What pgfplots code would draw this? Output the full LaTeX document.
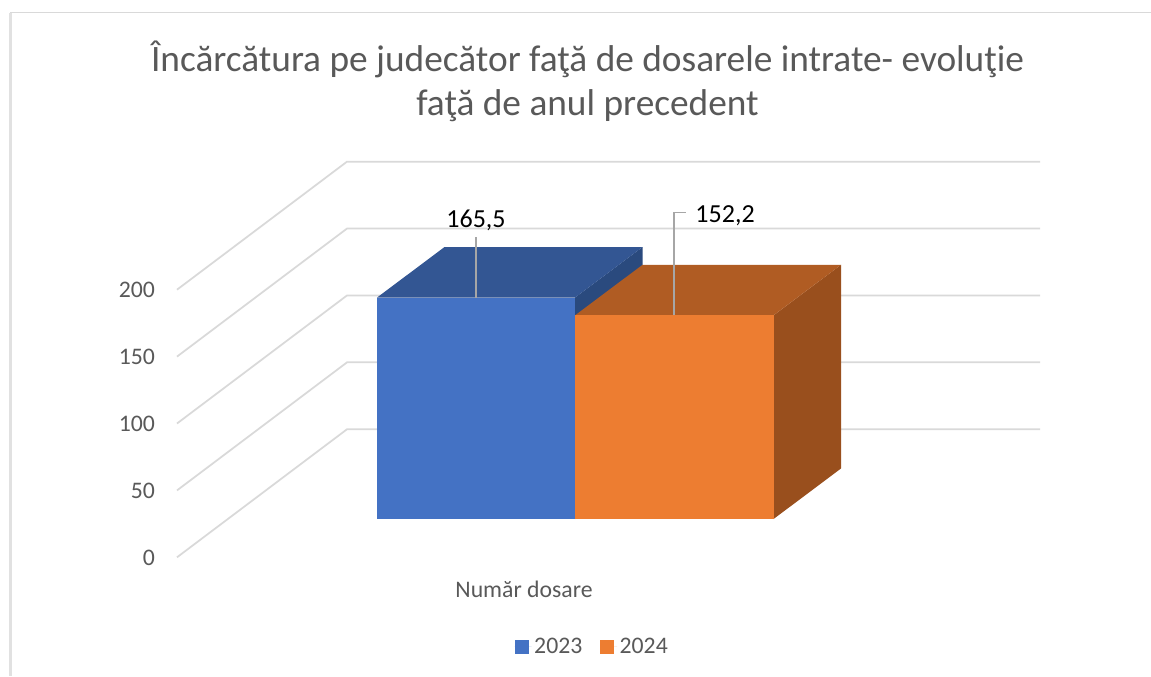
\documentclass[border=0pt]{standalone}
\usepackage{pgfplots}
\pgfplotsset{compat=1.18}
\usepackage{fontspec}
\setmainfont{Carlito}
\definecolor{txt}{HTML}{595959}
\definecolor{gridc}{HTML}{D9D9D9}
\definecolor{blueF}{HTML}{4472C4}
\definecolor{blueT}{HTML}{335693}
\definecolor{blueS}{HTML}{2A4A7E}
\definecolor{orF}{HTML}{ED7D31}
\definecolor{orT}{HTML}{B05C23}
\definecolor{orS}{HTML}{994F1D}
\definecolor{lead}{HTML}{A6A6A6}
\pgfplotsset{
  poly/.style={fill=#1,draw=none,forget plot},
  wall/.style={draw=gridc,line width=1.3pt,forget plot},
}
\begin{document}
\begin{tikzpicture}
\path[use as bounding box,fill=white] (-132.75pt,-89.025pt) rectangle (730.5pt,417.975pt);
\begin{axis}[
  scale only axis,
  width=647.25pt,
  height=200.7pt,
  xmin=177, xmax=1040,
  ymin=0, ymax=200,
  clip=false,
  axis line style={draw=none},
  major tick length=0pt,
  ytick={0,50,100,150,200},
  xtick={524},
  xticklabels={Număr dosare},
  /pgf/number format/assume math mode=true,
  tick label style={text=txt,font=\fontsize{17.8}{20}\selectfont},
  yticklabel style={xshift=-13pt,yshift=-0.5pt},
  xticklabel style={anchor=base,yshift=-30.5pt},
  title={Încărcătura pe judecător faţă de dosarele intrate- evoluţie\\faţă de anul precedent},
  title style={at={(axis cs:587.5,324.5)},anchor=base,yshift=0pt,align=center,text=txt,font=\fontsize{28}{33}\selectfont},
  legend style={at={(axis cs:592.5,-67)},anchor=center,draw=none,fill=none,
    legend columns=2,font=\fontsize{17.8}{20}\selectfont,text=txt,
    /tikz/every even column/.append style={column sep=11.25pt},
    inner sep=0pt,row sep=0pt},
  legend image code/.code={\fill[#1] (0pt,-5.25pt) rectangle (10.5pt,5.25pt);\path (0pt,0pt) -- (12.75pt,0pt);},
]
% outer frame
\addplot[wall,line width=1.1pt] table {
x y
1151 407
10.5 407
};
\addplot[wall,draw=gridc!80,line width=1.9pt] table {
x y
10.5 407
10.5 -88.7
};
% back walls
\addplot[wall] table[y expr=\thisrow{v}+\thisrow{d}] {
x v d
177 0 0
347 0 95.7
1040 0 95.7
};
\addplot[wall] table[y expr=\thisrow{v}+\thisrow{d}] {
x v d
177 50 0
347 50 95.7
1040 50 95.7
};
\addplot[wall] table[y expr=\thisrow{v}+\thisrow{d}] {
x v d
177 100 0
347 100 95.7
1040 100 95.7
};
\addplot[wall] table[y expr=\thisrow{v}+\thisrow{d}] {
x v d
177 150 0
347 150 95.7
1040 150 95.7
};
\addplot[wall] table[y expr=\thisrow{v}+\thisrow{d}] {
x v d
177 200 0
347 200 95.7
1040 200 95.7
};
% 2023 bar
\addplot[poly=blueS] table[y expr=\thisrow{v}+\thisrow{d}] {
x v d
575 0 28.6
642.5 0 66.4
642.5 165.5 66.4
575 165.5 28.6
};
\addplot[poly=blueT] table[y expr=\thisrow{v}+\thisrow{d}] {
x v d
377 165.5 28.6
444.5 165.5 66.4
642.5 165.5 66.4
575 165.5 28.6
};
\addplot[fill=blueF,draw=none] table[y expr=\thisrow{v}+\thisrow{d}] {
x v d
377 0 28.6
575 0 28.6
575 165.5 28.6
377 165.5 28.6
};
\addlegendentry{2023}
% 2024 bar
\addplot[poly=orS] table[y expr=\thisrow{v}+\thisrow{d}] {
x v d
773.5 0 28.6
841 0 66.4
841 152.2 66.4
773.5 152.2 28.6
};
\addplot[poly=orT] table[y expr=\thisrow{v}+\thisrow{d}] {
x v d
575 152.2 28.6
642.5 152.2 66.4
841 152.2 66.4
773.5 152.2 28.6
};
\addplot[fill=orF,draw=none] table[y expr=\thisrow{v}+\thisrow{d}] {
x v d
575 0 28.6
773.5 0 28.6
773.5 152.2 28.6
575 152.2 28.6
};
\addlegendentry{2024}
% leaders and data labels
\addplot[draw=lead,line width=1.2pt,forget plot] table[y expr=\thisrow{v}+\thisrow{d}] {
x v d
476 165.5 28.6
476 165.5 74.1
} node[pos=1,anchor=base,inner sep=0pt,yshift=6.8pt,text=black,font=\fontsize{19.5}{22}\selectfont] {165,5};
\addplot[draw=lead,line width=1.2pt,forget plot] table[y expr=\thisrow{v}+\thisrow{d}] {
x v d
673.7 152.2 28.6
673.7 152.2 105.5
686 152.2 105.5
} node[pos=1,anchor=base west,inner sep=0pt,xshift=6.5pt,yshift=-7.35pt,text=black,font=\fontsize{19.5}{22}\selectfont] {152,2};
\end{axis}
\end{tikzpicture}
\end{document}
